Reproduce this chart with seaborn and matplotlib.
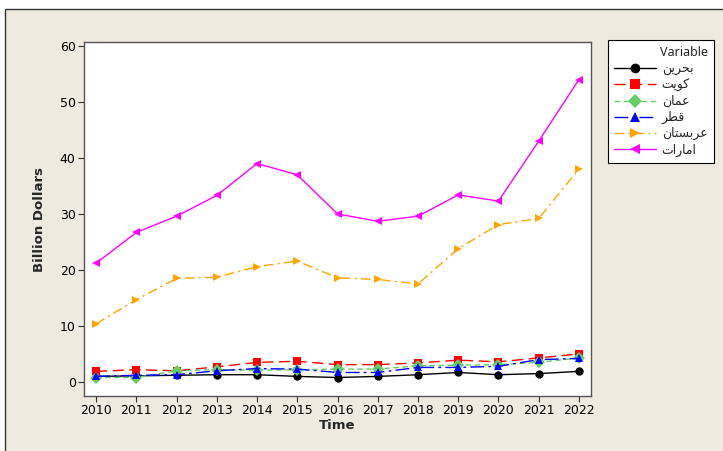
import pandas as pd
import numpy as np
import matplotlib
matplotlib.use('Agg')
import matplotlib.pyplot as plt
import seaborn as sns
from matplotlib.patches import Rectangle

# 데이터
years = list(range(2010, 2023))
bahrain = [1.0, 1.1, 1.2, 1.3, 1.3, 1.0, 0.8, 1.0, 1.3, 1.7, 1.3, 1.5, 1.9]
kuwait = [1.9, 2.2, 2.0, 2.7, 3.5, 3.7, 3.1, 3.1, 3.4, 3.9, 3.6, 4.3, 5.0]
oman = [0.8, 0.8, 2.0, 2.2, 2.1, 2.2, 2.3, 2.3, 2.9, 3.0, 3.1, 3.5, 4.3]
qatar = [1.0, 1.2, 1.3, 2.0, 2.4, 2.3, 1.7, 1.7, 2.6, 2.6, 2.8, 4.0, 4.2]
saudi = [10.4, 14.7, 18.5, 18.7, 20.6, 21.6, 18.6, 18.3, 17.5, 23.8, 28.1, 29.2, 38.0]
uae = [21.2, 26.7, 29.6, 33.3, 39.0, 37.0, 30.0, 28.7, 29.6, 33.4, 32.3, 43.0, 54.0]

names = ['بحرين', 'کویت', 'عمان', 'قطر', 'عربستان', 'امارات']
series = [bahrain, kuwait, oman, qatar, saudi, uae]
colors = ['black', '#FF0000', '#66CC66', '#0000FF', '#FFA500', '#FF00FF']
markers = ['o', 's', 'D', '^', '>', '<']
dashes = ['', (8, 4), (4, 2.5), (10, 3, 2, 3), (7, 3, 1.5, 3), '']

# 아랍 문자 표시형 변환 (matplotlib은 shaping을 하지 않음)
FORMS = {
    'ب': 'ﺏﺐﺑﺒ', 'ح': 'ﺡﺢﺣﺤ', 'ر': 'ﺭﺮ', 'ي': 'ﻱﻲﻳﻴ', 'ی': 'ﯼﯽﯾﯿ',
    'ن': 'ﻥﻦﻧﻨ', 'ک': 'ﮎﮏﮐﮑ', 'و': 'ﻭﻮ', 'ت': 'ﺕﺖﺗﺘ', 'ع': 'ﻉﻊﻋﻌ',
    'م': 'ﻡﻢﻣﻤ', 'ا': 'ﺍﺎ', 'ق': 'ﻕﻖﻗﻘ', 'ط': 'ﻁﻂﻃﻄ', 'س': 'ﺱﺲﺳﺴ',
}


def shape(word):
    out = []
    for i, ch in enumerate(word):
        f = FORMS[ch]
        prev_joins = i > 0 and len(FORMS[word[i - 1]]) == 4
        next_joins = len(f) == 4 and i < len(word) - 1
        if prev_joins and next_joins:
            idx = 3
        elif prev_joins:
            idx = 1
        elif next_joins:
            idx = 2
        else:
            idx = 0
        out.append(f[idx])
    return ''.join(reversed(out))


labels = [shape(n) for n in names]

df = pd.DataFrame({'Time': years * len(series),
                   'Value': np.concatenate(series),
                   'Variable': np.repeat(labels, len(years))})

sns.set_style('white')
plt.rcParams['font.family'] = ['DejaVu Sans']

fig = plt.figure(figsize=(7.23, 4.51), dpi=100, facecolor='white')
bg = Rectangle((5 / 723, -0.01), 1.0, 1 - 9 / 451 + 0.01,
               transform=fig.transFigure, facecolor='#EEEAE0',
               edgecolor='#333333', linewidth=1, zorder=-10)
fig.patches.append(bg)
ax = fig.add_axes([84 / 723, 55 / 451, 507 / 723, 354 / 451])

sns.lineplot(data=df, x='Time', y='Value', hue='Variable', style='Variable',
             palette=dict(zip(labels, colors)), markers=dict(zip(labels, markers)),
             dashes=dict(zip(labels, dashes)), markersize=6, linewidth=1,
             markeredgewidth=0, ax=ax, legend=False)

ax.set_xlim(2009.70, 2022.30)
ax.set_ylim(-2.5, 60.7)
ax.set_xticks(years)
ax.set_yticks(range(0, 61, 10))
ax.tick_params(axis='both', direction='out', length=4, width=0.8, color='#333333',
               labelsize=9, labelcolor='black', left=True, bottom=True, pad=2)
for s in ax.spines.values():
    s.set_color('#555555')
    s.set_linewidth(1)
ax.set_xlabel('Time', fontsize=9.5, fontweight='bold', labelpad=1)
ax.set_ylabel('Billion Dollars', fontsize=9.5, fontweight='bold', labelpad=10)

handles = []
for c, m, d in zip(colors, markers, dashes):
    h = plt.Line2D([], [], color=c, marker=m, markersize=7, markeredgewidth=0,
                   linewidth=1)
    if d:
        h.set_dashes(d)
    handles.append(h)
leg = fig.legend(handles, labels, title='Variable', loc='upper left',
                 bbox_to_anchor=(608 / 723, 1 - 40 / 451), borderaxespad=0,
                 frameon=True, fancybox=False, edgecolor='black', facecolor='white',
                 framealpha=1, prop={'family': ['Noto Sans', 'DejaVu Sans'], 'size': 9},
                 title_fontproperties={'family': 'Noto Sans', 'size': 9},
                 alignment='right', handlelength=3.3, handletextpad=0.5,
                 borderpad=0.5, labelspacing=0.25)
leg.get_frame().set_linewidth(0.8)

fig.savefig('out.png', dpi=100, facecolor='white')
